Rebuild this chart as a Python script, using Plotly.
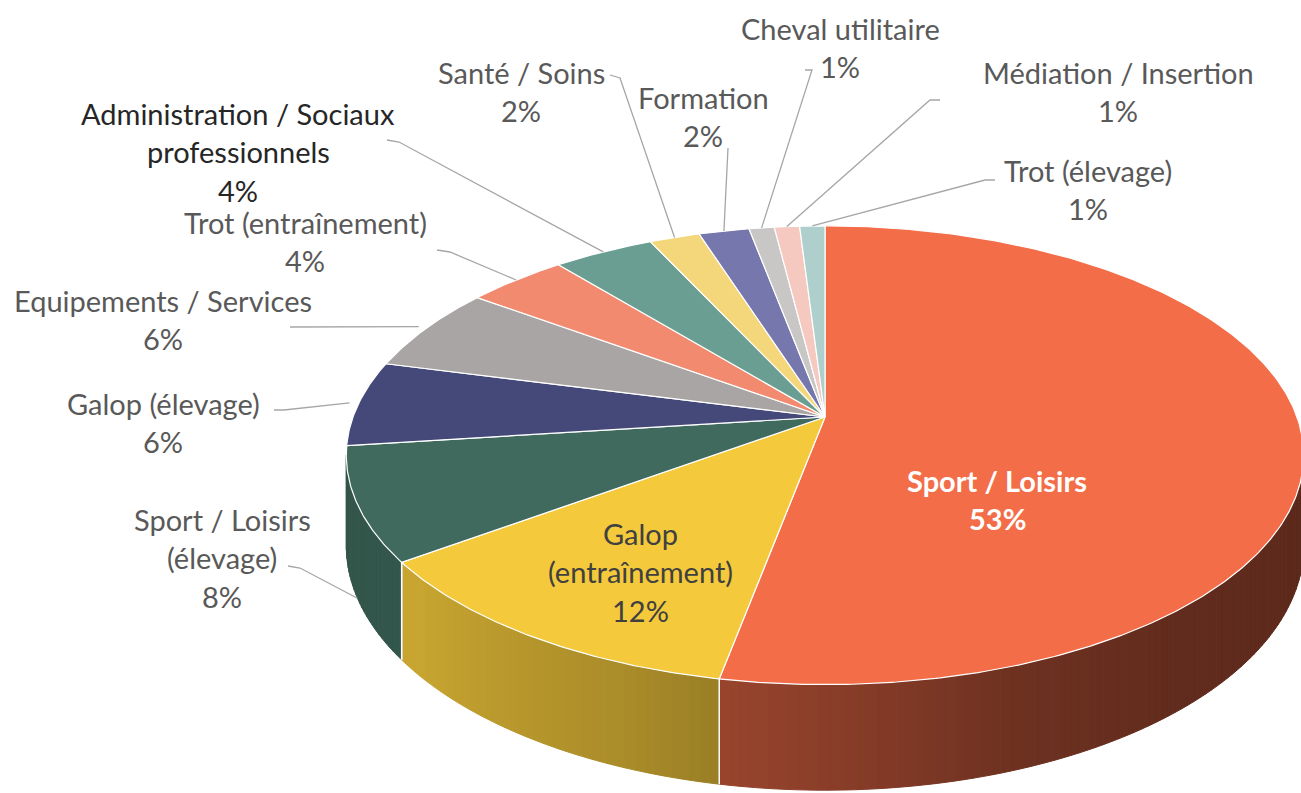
import math
import numpy as np
import plotly.graph_objects as go

# ---------------- data ----------------
categories = [
    "Sport / Loisirs",
    "Galop\n(entraînement)",
    "Sport / Loisirs\n(élevage)",
    "Galop (élevage)",
    "Equipements / Services",
    "Trot (entraînement)",
    "Administration / Sociaux\nprofessionnels",
    "Santé / Soins",
    "Formation",
    "Cheval utilitaire",
    "Médiation / Insertion",
    "Trot (élevage)",
]
values = [53, 12, 8, 6, 6, 4, 4, 2, 2, 1, 1, 1]
colors = ["#F36D48", "#F4C93B", "#3F6A5D", "#454979", "#A9A5A4", "#F28A70",
          "#6B9E92", "#F4D77A", "#7577AD", "#C9C6C6", "#F5C9C0", "#AFCFCC"]

# ---------------- layout / styling ----------------
W, HGT = 1301, 793
CX, CY = 825.0, 417.0      # pie centre on screen
RX, RY = 472.0, 223.0      # horizontal / vertical radii
K = 6.0                    # perspective strength
THICK = 88.0               # wall height
FONT = "Lato"
FS = 29
LINE_GAP = 38.5
GREY_TXT = "#595959"
LEADER = "#A6A6A6"

# label anchors (centre x, first line y), text colour, weight
label_pos = [
    (997, 480, "white", True),
    (640, 533, "#404040", False),
    (222, 519, GREY_TXT, False),
    (163, 403, GREY_TXT, False),
    (163, 300, GREY_TXT, False),
    (305, 222, GREY_TXT, False),
    (238, 113, "#262626", False),
    (521, 72, GREY_TXT, False),
    (703, 97, GREY_TXT, False),
    (840, 28, GREY_TXT, False),
    (1118, 72, GREY_TXT, False),
    (1088, 170, GREY_TXT, False),
]
# leader line starts (near the label); None = label inside slice
leader_start = [
    None, None,
    [(288, 566), (300, 568)],
    [(274, 410), (284, 410)],
    [(290, 327)],
    [(437, 250), (450, 252)],
    [(387, 140), (399, 142)],
    [(610, 75), (620, 78)],
    [(728, 148)],
    [(805, 70), (812, 70)],
    [(940, 100), (930, 100)],
    [(995, 180), (985, 180)],
]
# leader end: (radius factor, depth fraction of wall)
leader_end = [None, None, (1.0, 1.0), (1.02, 0), (1.02, 0), (1.0, 0), (1.0, 0),
              (1.0, 0), (1.0, 0), (1.0, 0), (1.0, 0), (1.0, 0)]


def proj(theta_deg, r=1.0, z=0.0):
    t = np.radians(theta_deg)
    X = r * np.sin(t)
    Y = r * np.cos(t)
    p = K / (K + Y)
    return CX + RX * X * p, CY - RY * Y * p + z * p


def shade(hex_color, f):
    h = hex_color.lstrip("#")
    r, g, b = (int(h[i:i + 2], 16) for i in (0, 2, 4))
    return "rgb(%d,%d,%d)" % (round(r * f), round(g * f), round(b * f))


shade_t = [100, 140, 160, 175, 191, 200, 230, 262]
shade_f = [0.37, 0.40, 0.45, 0.54, 0.63, 0.69, 0.82, 0.80]

total = float(sum(values))
bounds = [0.0]
for v in values:
    bounds.append(bounds[-1] + 360.0 * v / total)

fig = go.Figure()

# ---------------- walls ----------------
VIS0, VIS1 = math.degrees(math.acos(-1.0 / K)), 360 - math.degrees(math.acos(-1.0 / K))
for i, v in enumerate(values):
    a0, a1 = max(bounds[i], VIS0), min(bounds[i + 1], VIS1)
    if a1 <= a0:
        continue
    n = max(2, int((a1 - a0) / 1.0))
    ts = np.linspace(a0, a1, n + 1)
    for j in range(n):
        t0, t1 = ts[j], ts[j + 1]
        tt = np.linspace(t0, t1, 3)
        xt, yt = proj(tt)
        xb, yb = proj(tt[::-1], z=THICK)
        c = shade(colors[i], float(np.interp((t0 + t1) / 2, shade_t, shade_f)))
        fig.add_trace(go.Scatter(
            x=list(xt) + list(xb) + [xt[0]], y=list(yt) + list(yb) + [yt[0]],
            mode="lines", fill="toself", fillcolor=c,
            line=dict(color=c, width=1), hoverinfo="skip", showlegend=False))
    # white separator lines on the wall at slice boundaries
    for b in (bounds[i], bounds[i + 1]):
        if VIS0 < b < VIS1:
            x0, y0 = proj(b)
            x1, y1 = proj(b, z=THICK)
            fig.add_trace(go.Scatter(x=[x0, x1], y=[y0, y1], mode="lines",
                                     line=dict(color="white", width=1.5),
                                     hoverinfo="skip", showlegend=False))

# ---------------- top faces ----------------
for i, v in enumerate(values):
    ts = np.linspace(bounds[i], bounds[i + 1], max(3, int((bounds[i + 1] - bounds[i]) * 2)))
    xs, ys = proj(ts)
    fig.add_trace(go.Scatter(
        x=[CX] + list(xs) + [CX], y=[CY] + list(ys) + [CY],
        mode="lines", fill="toself", fillcolor=colors[i],
        line=dict(color="white", width=1.2), name=categories[i].replace("\n", " "),
        hoverinfo="name", showlegend=False))

# ---------------- leader lines ----------------
for i, v in enumerate(values):
    if leader_start[i] is None:
        continue
    mid = (bounds[i] + bounds[i + 1]) / 2
    rf, zf = leader_end[i]
    ex, ey = proj(mid, r=rf, z=THICK * zf)
    pts = leader_start[i] + [(float(ex), float(ey))]
    fig.add_trace(go.Scatter(x=[p[0] for p in pts], y=[p[1] for p in pts],
                             mode="lines", line=dict(color=LEADER, width=1.3),
                             hoverinfo="skip", showlegend=False))

# ---------------- labels ----------------
annotations = []
for i, v in enumerate(values):
    lx, ly, col, bold = label_pos[i]
    lines = categories[i].split("\n") + ["%d%%" % v]
    for k, txt in enumerate(lines):
        annotations.append(dict(
            x=lx, y=ly + k * LINE_GAP, xref="x", yref="y",
            text="<b>%s</b>" % txt if bold else txt, showarrow=False,
            xanchor="center", yanchor="middle",
            font=dict(family=FONT, size=FS, color=col)))

fig.update_layout(
    width=W, height=HGT,
    margin=dict(l=0, r=0, t=0, b=0),
    paper_bgcolor="white", plot_bgcolor="white",
    xaxis=dict(range=[0, W], visible=False, fixedrange=True),
    yaxis=dict(range=[HGT, 0], visible=False, fixedrange=True),
    annotations=annotations,
    showlegend=False,
)

fig.write_html("out.html", config={"displayModeBar": False},
               post_script="document.body.style.margin='0';")
